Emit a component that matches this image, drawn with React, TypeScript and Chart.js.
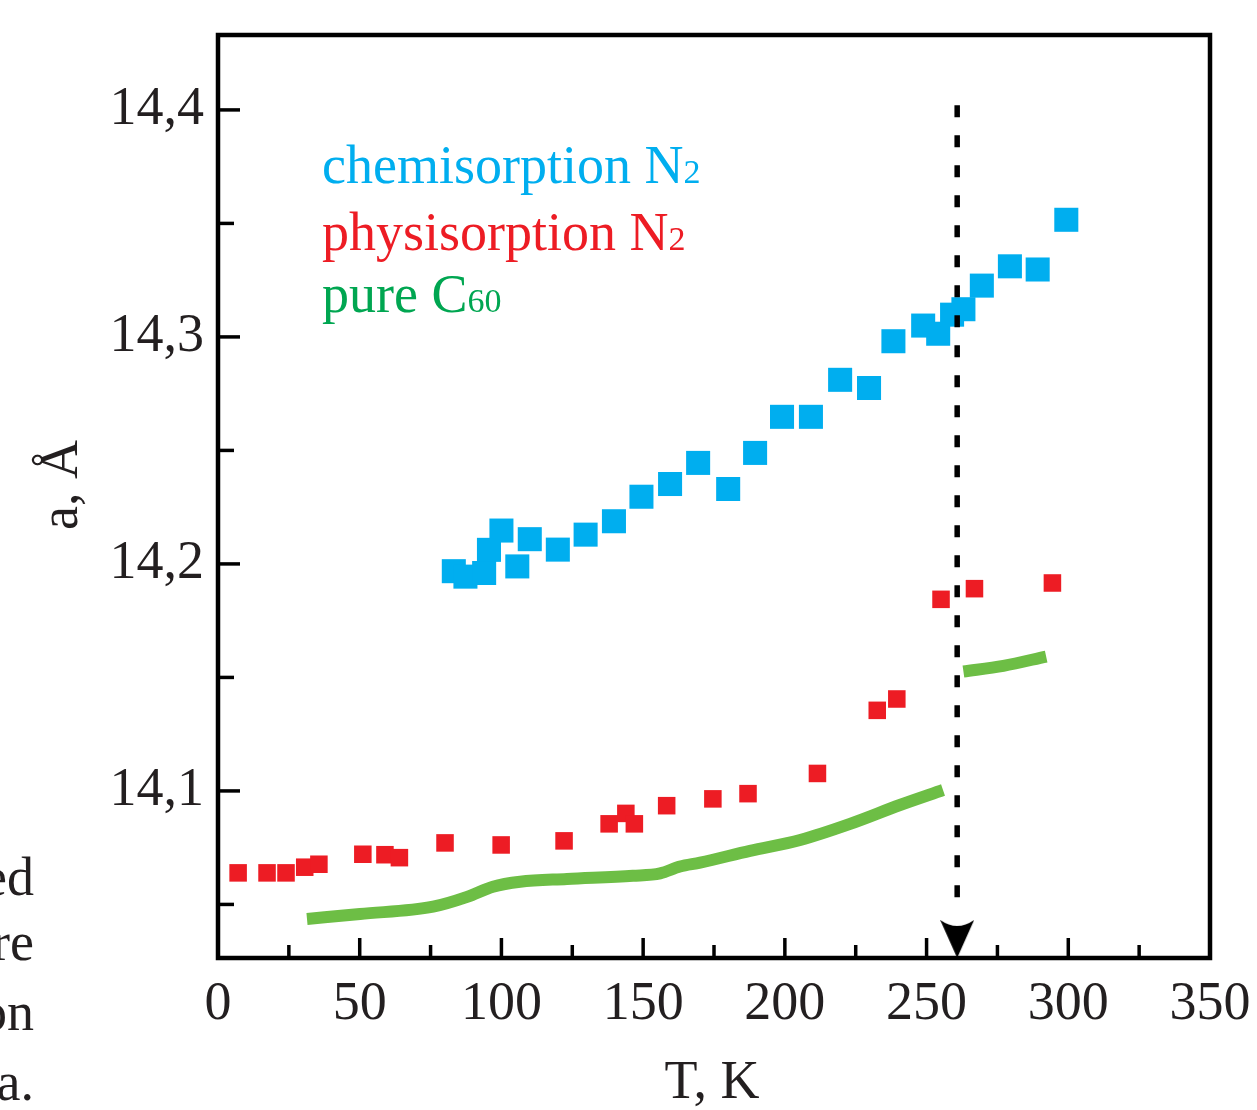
import React, { useEffect, useRef } from 'react';
import { Chart, registerables } from 'chart.js';

Chart.register(...registerables);

// ---- data ----
const chemisorptionT = [83.2, 87.3, 93.9, 95.6, 100.0, 105.6, 110.0, 119.9, 129.7, 139.7, 149.4, 159.5, 169.4, 180.0, 189.5, 199.0, 209.2, 219.5, 229.7, 238.3, 248.8, 254.1, 259.0, 263.0, 269.5, 279.4, 289.2, 299.3];
const chemisorptionA = [14.1968, 14.1944, 14.196, 14.2062, 14.2147, 14.1989, 14.2109, 14.2063, 14.2129, 14.2188, 14.2296, 14.2352, 14.2445, 14.233, 14.2489, 14.2648, 14.2648, 14.2811, 14.2775, 14.2981, 14.305, 14.3014, 14.3098, 14.3122, 14.3226, 14.3311, 14.3297, 14.3516];

const physisorptionT = [7.1, 17.3, 24.0, 30.6, 35.6, 51.1, 58.9, 64.0, 80.1, 99.9, 122.1, 138.0, 143.9, 146.9, 158.3, 174.6, 187.0, 211.5, 232.6, 239.5, 255.1, 266.9, 294.4];
const physisorptionA = [14.0639, 14.0639, 14.0639, 14.0664, 14.0677, 14.0721, 14.0719, 14.0706, 14.0771, 14.0762, 14.078, 14.0855, 14.0901, 14.0855, 14.0935, 14.0965, 14.0988, 14.1077, 14.1355, 14.1405, 14.1844, 14.1891, 14.1916];

const pureC60LowT = [31.4, 50.1, 75.9, 87.9, 97.0, 106.6, 123.1, 146.4, 156.0, 163.0, 170.1, 187.7, 205.4, 223.0, 240.6, 255.8];
const pureC60LowA = [14.0436, 14.0458, 14.049, 14.0533, 14.0578, 14.06, 14.0612, 14.0626, 14.0637, 14.0667, 14.0684, 14.0736, 14.0784, 14.0855, 14.0938, 14.1004];
const pureC60HighT = [263.0, 277.1, 292.2];
const pureC60HighA = [14.1526, 14.1551, 14.1592];

const transitionT = 260.8;
const transitionLineA = [14.402, 14.047];
const transitionArrowA = 14.0348;

const xMajorTicks = [0, 50, 100, 150, 200, 250, 300, 350];
const xMinorTicks = [25, 75, 125, 175, 225, 275, 325];
const yMajorTicks = [14.1, 14.2, 14.3, 14.4];
const yMinorTicks = [14.05, 14.15, 14.25, 14.35];
const xRange = [0, 350];
const yRange = [14.0264, 14.433];

const BLUE = '#00aeef';
const RED = '#ed1c24';
const GREEN_LINE = '#6dbe45';
const GREEN_TEXT = '#00a651';
const INK = '#231f20';
const SERIF = '"Liberation Serif", "Times New Roman", serif';

const zip = (xs: number[], ys: number[]) => xs.map((x, i) => ({ x, y: ys[i] }));

function makeArrowHead(): HTMLCanvasElement {
  const w = 34;
  const h = 38;
  const c = document.createElement('canvas');
  c.width = w;
  c.height = h;
  const g = c.getContext('2d');
  if (g) {
    g.fillStyle = '#000';
    g.beginPath();
    g.moveTo(0, 0);
    g.quadraticCurveTo(w / 2, 12, w, 0);
    g.lineTo(w / 2, h);
    g.closePath();
    g.fill();
  }
  return c;
}

const zeroPadding = (s: any) => {
  s.paddingTop = 0;
  s.paddingBottom = 0;
  s.paddingLeft = 0;
  s.paddingRight = 0;
};

const framePlugin = {
  id: 'frameTicks',
  afterDraw(chart: any) {
    const { ctx, chartArea } = chart;
    const xs = chart.scales.x;
    const ys = chart.scales.y;
    ctx.save();
    ctx.strokeStyle = '#000';
    ctx.lineCap = 'butt';
    ctx.lineWidth = 3.5;
    const tick = (vals: number[], len: number, horiz: boolean) => {
      vals.forEach((v) => {
        ctx.beginPath();
        if (horiz) {
          const px = xs.getPixelForValue(v);
          ctx.moveTo(px, chartArea.bottom);
          ctx.lineTo(px, chartArea.bottom - len);
        } else {
          const py = ys.getPixelForValue(v);
          ctx.moveTo(chartArea.left, py);
          ctx.lineTo(chartArea.left + len, py);
        }
        ctx.stroke();
      });
    };
    tick(xMajorTicks, 20, true);
    tick(xMinorTicks, 13, true);
    tick(yMajorTicks, 22, false);
    tick(yMinorTicks, 16, false);
    ctx.lineWidth = 4.5;
    ctx.strokeRect(chartArea.left, chartArea.top, chartArea.right - chartArea.left, chartArea.bottom - chartArea.top);
    ctx.restore();
  },
};

export default function App() {
  const canvasRef = useRef<HTMLCanvasElement | null>(null);

  useEffect(() => {
    if (!canvasRef.current) return;
    const arrow = makeArrowHead();
    const chart = new Chart(canvasRef.current, {
      type: 'scatter',
      data: {
        datasets: [
          {
            type: 'line',
            data: zip([transitionT, transitionT], transitionLineA),
            borderColor: '#000',
            borderWidth: 5.5,
            borderDash: [12, 18],
            pointRadius: 0,
            fill: false,
          } as any,
          {
            data: [{ x: transitionT, y: transitionArrowA }],
            pointStyle: arrow,
            pointRadius: 19,
            clip: false,
          } as any,
          {
            data: zip(chemisorptionT, chemisorptionA),
            pointStyle: 'rect',
            pointRadius: 17,
            backgroundColor: BLUE,
            borderColor: BLUE,
            borderWidth: 0,
          },
          {
            data: zip(physisorptionT, physisorptionA),
            pointStyle: 'rect',
            pointRadius: 12.4,
            backgroundColor: RED,
            borderColor: RED,
            borderWidth: 0,
          },
          {
            type: 'line',
            data: zip(pureC60LowT, pureC60LowA),
            borderColor: GREEN_LINE,
            borderWidth: 12,
            pointRadius: 0,
            cubicInterpolationMode: 'monotone',
            borderCapStyle: 'butt',
            fill: false,
          } as any,
          {
            type: 'line',
            data: zip(pureC60HighT, pureC60HighA),
            borderColor: GREEN_LINE,
            borderWidth: 12,
            pointRadius: 0,
            cubicInterpolationMode: 'monotone',
            borderCapStyle: 'butt',
            fill: false,
          } as any,
        ],
      },
      options: {
        animation: false,
        responsive: false,
        devicePixelRatio: 1,
        layout: { padding: { top: 35, right: 47, left: 0, bottom: 0 } },
        plugins: { legend: { display: false }, tooltip: { enabled: false } },
        scales: {
          x: {
            type: 'linear',
            min: xRange[0],
            max: xRange[1],
            afterBuildTicks: (s: any) => {
              s.ticks = xMajorTicks.map((v) => ({ value: v }));
            },
            afterFit: (s: any) => {
              s.height = 152;
              zeroPadding(s);
            },
            grid: { display: false, drawTicks: false, tickLength: 0 },
            border: { display: false },
            ticks: {
              padding: 14,
              maxRotation: 0,
              autoSkip: false,
              color: INK,
              font: { family: SERIF, size: 54, lineHeight: 1.2 },
              callback: (v: any) => String(v),
            },
          },
          y: {
            type: 'linear',
            min: yRange[0],
            max: yRange[1],
            afterBuildTicks: (s: any) => {
              s.ticks = yMajorTicks.map((v) => ({ value: v }));
            },
            afterFit: (s: any) => {
              s.width = 218;
              zeroPadding(s);
            },
            grid: { display: false, drawTicks: false, tickLength: 0 },
            border: { display: false },
            ticks: {
              padding: 14,
              autoSkip: false,
              color: INK,
              font: { family: SERIF, size: 54 },
              callback: (v: any) => Number(v).toFixed(1).replace('.', ','),
            },
          },
        },
      },
      plugins: [framePlugin],
    } as any);
    return () => chart.destroy();
  }, []);

  const textBase: React.CSSProperties = {
    position: 'absolute',
    fontFamily: SERIF,
    fontSize: 54,
    lineHeight: '54px',
    whiteSpace: 'nowrap',
    color: INK,
  };

  return (
    <div style={{ position: 'absolute', left: 0, top: 0, width: 1257, height: 1110, background: '#fff', overflow: 'hidden' }}>
      <canvas ref={canvasRef} width={1257} height={1110} style={{ display: 'block', width: 1257, height: 1110 }} />
      <div style={{ ...textBase, left: 322, top: 138, color: BLUE }}>
        chemisorption N<span style={{ fontSize: 34 }}>2</span>
      </div>
      <div style={{ ...textBase, left: 322, top: 205, color: RED }}>
        physisorption N<span style={{ fontSize: 34 }}>2</span>
      </div>
      <div style={{ ...textBase, left: 322, top: 267, color: GREEN_TEXT }}>
        pure C<span style={{ fontSize: 34 }}>60</span>
      </div>
      <div style={{ ...textBase, left: -41, top: 458, width: 200, textAlign: 'center', transform: 'rotate(-90deg)' }}>
        a, Å
      </div>
      <div style={{ ...textBase, left: 612, top: 1053, width: 200, textAlign: 'center' }}>T, K</div>
      <div style={{ position: 'absolute', left: 0, top: 0, width: 34, height: 1110, overflow: 'hidden' }}>
        <span style={{ ...textBase, right: 0, top: 850 }}>ed</span>
        <span style={{ ...textBase, right: 0, top: 915 }}>re</span>
        <span style={{ ...textBase, right: 0, top: 985 }}>on</span>
        <span style={{ ...textBase, right: 0, top: 1055 }}>a.</span>
      </div>
    </div>
  );
}
